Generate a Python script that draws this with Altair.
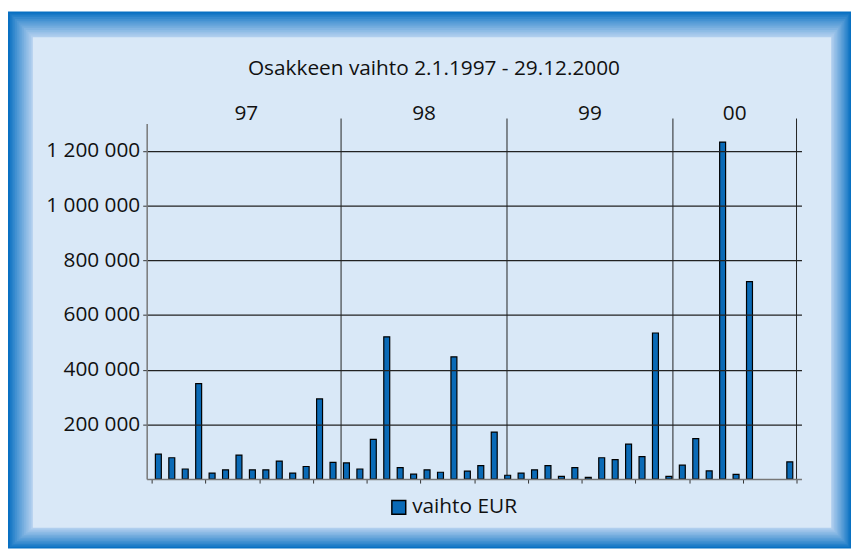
import altair as alt
import pandas as pd

# ---- data ----
values = [91000, 78000, 37000, 349000, 22000, 34000, 88000, 34000, 34000, 66000, 22000, 46000, 293000, 61000,
          59000, 37000, 145000, 520000, 42000, 18000, 34000, 25000, 447000, 29000, 49000, 172000, 14000,
          22000, 34000, 49000, 10000, 42000, 6000, 78000, 71000, 128000, 82000, 534000, 10000,
          51000, 148000, 30000, 1232000, 17000, 722000, 0, 0, 63000]
year_labels = ["97", "98", "99", "00"]
year_bounds = [0, 14.1, 26.45, 38.8, 48]
y_ticks = [200000, 400000, 600000, 800000, 1000000, 1200000]
series_name = "vaihto EUR"
title_text = "Osakkeen vaihto 2.1.1997 - 29.12.2000"

FONT = "Open Sans"
FS = 21
W, H = 661, 359

bars_df = pd.DataFrame({"i": list(range(len(values))), "v": values, "s": series_name})
sep_df = pd.DataFrame({"b": year_bounds[1:]})
lab_df = pd.DataFrame({
    "lab": year_labels,
    "mid": [(year_bounds[k] + year_bounds[k + 1]) / 2 for k in range(len(year_labels))],
})

# ---- bevelled frame (decoration) ----
def lerp(c1, c2, t):
    a = [int(c1[j:j + 2], 16) for j in (1, 3, 5)]
    b = [int(c2[j:j + 2], 16) for j in (1, 3, 5)]
    return "#" + "".join("%02x" % round(a[k] + (b[k] - a[k]) * t) for k in range(3))

one = pd.DataFrame({"a": [0]})
N = 14
frame_layers = []
for k in range(N + 1):
    t = k / N
    if k < N:
        x1, x2, y1, y2 = -140 + 25 * t, 711 - 20 * t, -113 + 26 * t, 429 - 21 * t
        col = lerp("#0870c2", "#bcd5f1", t ** 0.9)
    else:
        x1, x2, y1, y2 = -115, 691, -87, 408
        col = "#d9e8f7"
    frame_layers.append(
        alt.Chart(one).mark_rect(fill=col).encode(
            x=alt.value(x1), x2=alt.value(x2), y=alt.value(y1), y2=alt.value(y2)
        )
    )

xscale = alt.Scale(domain=[0, 48], nice=False, zero=False)
yscale = alt.Scale(domain=[0, 1300000], nice=False)

bars = alt.Chart(bars_df).transform_filter("datum.v > 0").transform_calculate(
    pos="datum.i + 0.5"
).mark_bar(size=6, stroke="#000000", strokeWidth=1.2).encode(
    x=alt.X("pos:Q", scale=xscale,
            axis=alt.Axis(values=list(range(0, 49, 2)), labels=False, title=None, grid=False,
                          tickSize=4, tickColor="#333333", domainColor="#777777", domainWidth=1.5,
                          zindex=1)),
    y=alt.Y("v:Q", scale=yscale,
            axis=alt.Axis(values=y_ticks, title=None, grid=True, gridColor="#222222", gridWidth=1.2,
                          tickSize=4, tickColor="#333333", labelPadding=3,
                          labelFont=FONT, labelFontSize=FS, labelColor="#111111",
                          domainColor="#777777", domainWidth=1.5, zindex=1,
                          labelExpr="replace(format(datum.value, ','), regexp(',', 'g'), ' ')")),
    color=alt.Color("s:N", scale=alt.Scale(range=["#0a6ab6"]),
                    legend=alt.Legend(title=None, orient="none", legendX=244, legendY=377,
                                      symbolType="square", symbolSize=196,
                                      symbolStrokeColor="#000000", symbolStrokeWidth=1.5,
                                      labelFont=FONT, labelFontSize=FS, labelColor="#111111",
                                      labelOffset=3, padding=0)),
)

seps = alt.Chart(sep_df).mark_rule(color="#222222", strokeWidth=1).encode(
    x=alt.X("b:Q", scale=xscale),
    y=alt.value(-5),
    y2=alt.value(H),
)

year_text = alt.Chart(lab_df).mark_text(font=FONT, fontSize=FS, color="#111111", baseline="middle").encode(
    x=alt.X("mid:Q", scale=xscale),
    y=alt.value(-10),
    text="lab:N",
)

title = alt.Chart(pd.DataFrame({"t": [title_text]})).mark_text(
    font=FONT, fontSize=FS, color="#111111", baseline="middle"
).encode(
    x=alt.value(290),
    y=alt.value(-55),
    text="t:N",
)

chart = alt.layer(*frame_layers, seps, bars, year_text, title).properties(
    width=W, height=H,
    autosize=alt.AutoSizeParams(type="none"),
    padding={"left": 140, "top": 114, "right": 50, "bottom": 70},
    background="#ffffff",
).configure_view(strokeWidth=0)

chart.save("out.html", embed_options={"renderer": "svg", "actions": False})
